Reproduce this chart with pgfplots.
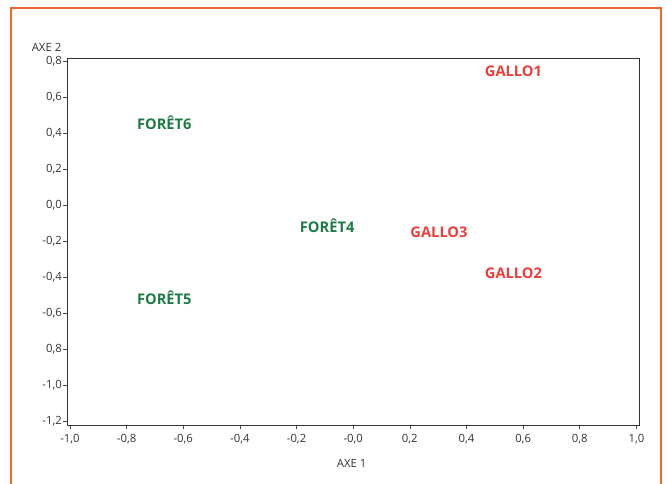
\documentclass[border=0pt]{standalone}
\usepackage{fontspec}
\setmainfont{Open Sans}
\usepackage{pgfplots}
\usepackage{pgfplotstable}
\pgfplotsset{compat=1.18}
\definecolor{frameor}{HTML}{E8692D}
\definecolor{fgreen}{HTML}{1E7B45}
\definecolor{fred}{HTML}{EC3E3A}
\definecolor{tickgray}{HTML}{333333}
\pgfplotstableread{
x y label
-0.667 0.460 FORÊT6
-0.092 -0.114 FORÊT4
-0.667 -0.515 FORÊT5
}\foret
\pgfplotstableread{
x y label
0.566 0.744 GALLO1
0.303 -0.147 GALLO3
0.566 -0.375 GALLO2
}\gallo
\begin{document}
\begin{tikzpicture}[x=0.75pt,y=0.75pt]
\useasboundingbox (-66,-59) rectangle (601,425);
\draw[frameor, line width=1.9pt] (-55,-70) -- (-55,417) -- (595,417) -- (595,-70);
\begin{axis}[
  at={(0.5,0)}, anchor=south west,
  width=429pt, height=275.25pt, scale only axis,
  xmin=-1.009, xmax=1.0106, ymin=-1.22, ymax=0.82,
  xtick={-1,-0.8,-0.6,-0.4,-0.2,0,0.2,0.4,0.6,0.8,1},
  xticklabels={{-1,0},{-0,8},{-0,6},{-0,4},{-0,2},{-0,0},{0,2},{0,4},{0,6},{0,8},{1,0}},
  ytick={-1.2,-1,-0.8,-0.6,-0.4,-0.2,0,0.2,0.4,0.6,0.8},
  yticklabels={{-1,2},{-1,0},{0,8},{-0,6},{-0,4},{-0,2},{0,0},{0,2},{0,4},{0,6},{0,8}},
  tick align=outside, tick pos=left,
  major tick length=3pt,
  tick style={draw=black!70, line width=0.5pt},
  axis line style={draw=black!80, line width=0.6pt},
  ticklabel style={font=\fontsize{8.5}{10}\selectfont, text=tickgray},
  yticklabel style={inner sep=1pt},
  xticklabel style={inner sep=2pt, yshift=-2pt},
  xlabel={AXE 1}, ylabel={AXE 2},
  label style={font=\fontsize{8.5}{10}\selectfont, text=tickgray},
  xlabel style={at={(axis description cs:0.497,-0.106)}, anchor=center},
  ylabel style={rotate=-90, at={(axis description cs:-0.0365,1.03)}, anchor=center},
  clip=false,
]
\addplot[only marks, mark=none, nodes near coords, point meta=explicit symbolic,
  nodes near coords style={anchor=center, font=\bfseries\fontsize{11}{13}\selectfont, text=fgreen}]
  table[meta=label] {\foret};
\addplot[only marks, mark=none, nodes near coords, point meta=explicit symbolic,
  nodes near coords style={anchor=center, font=\bfseries\fontsize{11}{13}\selectfont, text=fred}]
  table[meta=label] {\gallo};
\end{axis}
\end{tikzpicture}
\end{document}
